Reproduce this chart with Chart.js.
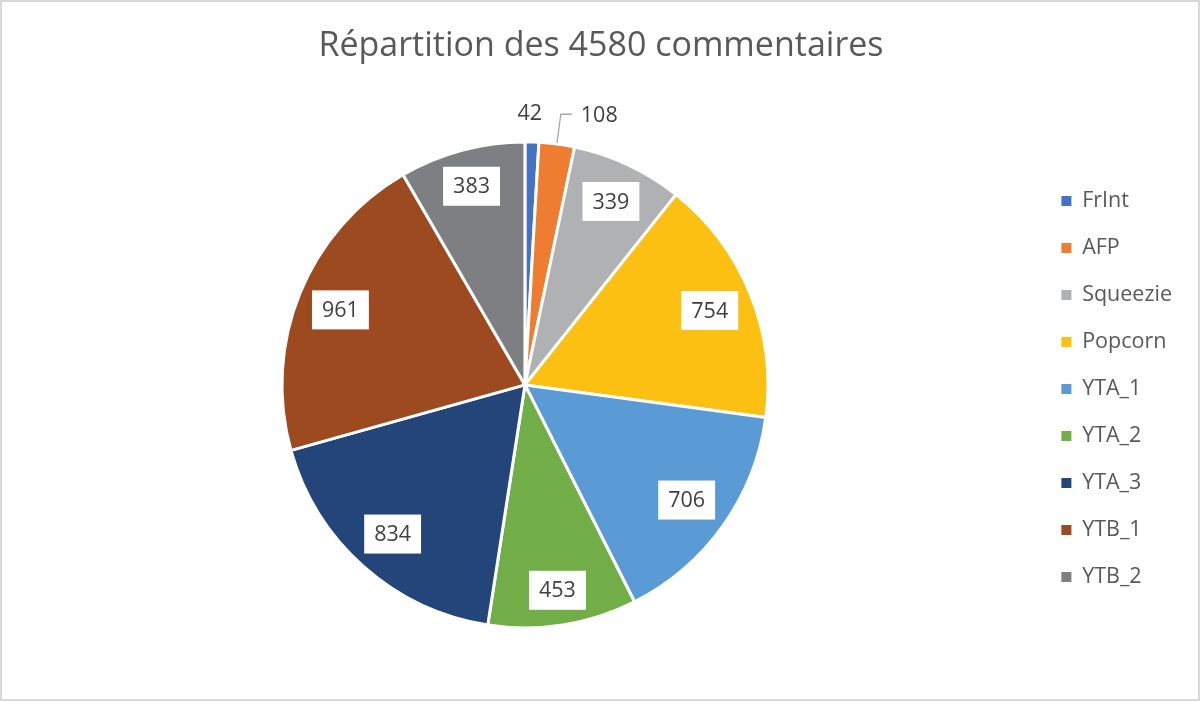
<!DOCTYPE html>
<html><head><meta charset="utf-8">
<script src="https://cdn.jsdelivr.net/npm/chart.js@4/dist/chart.umd.min.js"></script>
<style>html,body{margin:0;padding:0;background:#fff;}#wrap{width:1200px;height:701px;position:relative;}</style>
</head><body><div id="wrap"><canvas id="c" width="1200" height="701"></canvas></div>
<script>
const titleText = 'Répartition des 4580 commentaires';
const categories = ['FrInt','AFP','Squeezie','Popcorn','YTA_1','YTA_2','YTA_3','YTB_1','YTB_2'];
const commentCounts = [42,108,339,754,706,453,834,961,383];
const sliceColors = ['#4472C4','#EE7D31','#B0B1B3','#FCC012','#5B9BD5','#72AE48','#23457A','#9D4A21','#7E7F83'];
const FONT = '"Open Sans", Lato, sans-serif';

const bgPlugin = {
  id: 'bg',
  beforeDraw(chart) {
    const ctx = chart.ctx;
    ctx.save();
    ctx.fillStyle = '#fff';
    ctx.fillRect(0, 0, chart.width, chart.height);
    ctx.strokeStyle = '#d9d9d9';
    ctx.lineWidth = 2;
    ctx.strokeRect(1, 1, chart.width - 2, chart.height - 2);
    ctx.restore();
  }
};

// centre the title over the whole chart box (not over the padded area)
const titleCenterPlugin = {
  id: 'titleCenter',
  afterLayout(chart) {
    const t = chart.titleBlock;
    if (t) { t.left = 0; t.right = chart.width + 2; t.width = t.right - t.left; }
  }
};

const labelPlugin = {
  id: 'sliceLabels',
  afterDatasetsDraw(chart) {
    const ctx = chart.ctx;
    const meta = chart.getDatasetMeta(0);
    const data = chart.data.datasets[0].data;
    ctx.save();
    ctx.font = '21.5px ' + FONT;
    ctx.textBaseline = 'middle';
    const boxH = 39, padX = 10, inset = 10;
    let lastOut = null;
    meta.data.forEach((arc, i) => {
      const p = arc.getProps(['x', 'y', 'startAngle', 'endAngle', 'outerRadius'], true);
      const mid = (p.startAngle + p.endAngle) / 2;
      const ux = Math.cos(mid), uy = Math.sin(mid);
      const txt = String(data[i]);
      const tw = ctx.measureText(txt).width;
      const bw = tw + 2 * padX;
      const sweep = p.endAngle - p.startAngle;
      const r = p.outerRadius - inset;
      const cx = Math.sign(ux) * bw / 2, cy = Math.sign(uy) * boxH / 2;
      const uc = ux * cx + uy * cy;
      const d = -uc + Math.sqrt(Math.max(0, uc * uc - (cx * cx + cy * cy) + r * r));
      const chord = 2 * d * Math.sin(Math.min(sweep, Math.PI) / 2);
      if (chord < bw + 10) {
        const R = p.outerRadius;
        let lx = p.x + ux * (R + 28), ly = p.y + uy * (R + 28);
        const box = {l: lx - tw / 2, r: lx + tw / 2, t: ly - 12, b: ly + 12};
        if (lastOut && box.l < lastOut.r + 6 && box.t < lastOut.b && box.b > lastOut.t) {
          const ex = p.x + ux * (R + 1), ey = p.y + uy * (R + 1);
          const kx = p.x + ux * (R + 30), ky = p.y + uy * (R + 30);
          ctx.strokeStyle = '#a6a6a6';
          ctx.lineWidth = 1.3;
          ctx.beginPath();
          ctx.moveTo(ex, ey);
          ctx.lineTo(kx, ky);
          ctx.lineTo(kx + 11, ky);
          ctx.stroke();
          ctx.fillStyle = '#404040';
          ctx.textAlign = 'left';
          ctx.fillText(txt, kx + 20, ky + 2);
          lastOut = {l: kx + 20, r: kx + 20 + tw, t: ky - 12, b: ky + 12};
        } else {
          ctx.fillStyle = '#404040';
          ctx.textAlign = 'center';
          ctx.fillText(txt, lx - 3, ly);
          lastOut = box;
        }
      } else {
        const bx = p.x + ux * d, by = p.y + uy * d;
        ctx.fillStyle = '#fff';
        ctx.fillRect(bx - bw / 2, by - boxH / 2, bw, boxH);
        ctx.fillStyle = '#404040';
        ctx.textAlign = 'center';
        ctx.fillText(txt, bx, by + 1);
      }
    });
    ctx.restore();
  }
};

new Chart(document.getElementById('c'), {
  type: 'pie',
  data: {
    labels: categories,
    datasets: [{
      data: commentCounts,
      backgroundColor: sliceColors,
      borderColor: '#ffffff',
      borderWidth: 3,
      radius: 243
    }]
  },
  options: {
    responsive: false,
    devicePixelRatio: 1,
    animation: false,
    layout: {padding: {left: 14, right: 18, top: 0, bottom: 36}},
    plugins: {
      title: {
        display: true,
        text: titleText,
        color: '#595959',
        font: {family: FONT, size: 34, weight: 'normal'},
        padding: {top: 26, bottom: 38}
      },
      legend: {
        position: 'right',
        align: 'center',
        fullSize: false,
        title: {display: true, text: ' ', font: {size: 5}, padding: 1},
        labels: {
          boxWidth: 10,
          boxHeight: 10,
          padding: 25.5,
          color: '#595959',
          font: {family: FONT, size: 21.5},
          generateLabels(chart) {
            const items = Chart.overrides.pie.plugins.legend.labels.generateLabels(chart);
            items.forEach(it => { it.lineWidth = 0; it.strokeStyle = 'rgba(0,0,0,0)'; });
            return items;
          }
        }
      },
      tooltip: {enabled: false}
    }
  },
  plugins: [bgPlugin, titleCenterPlugin, labelPlugin]
});
</script>
</body></html>
